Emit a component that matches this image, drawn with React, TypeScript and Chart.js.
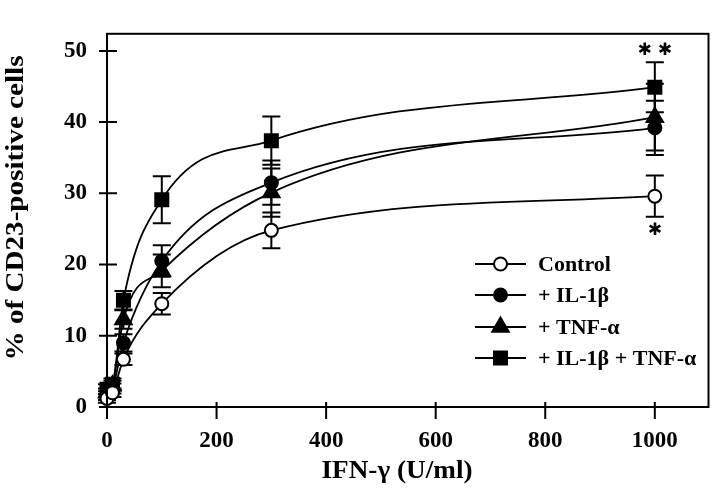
import React, { useEffect, useRef } from 'react';
import { Chart, registerables } from 'chart.js';

Chart.register(...registerables);

// ---- data ----
const doses = [0, 10, 30, 100, 300, 1000];
const control = [1.2, 2.0, 6.7, 14.5, 24.8, 29.6];
const controlErr = [0.6, 0.6, 0.8, 1.5, 2.5, 2.9];
const il1b = [1.6, 2.6, 9.0, 20.5, 31.5, 39.2];
const il1bErr = [0.6, 0.7, 1.2, 2.2, 3.1, 3.8];
const tnfa = [2.0, 3.0, 12.3, 19.1, 30.1, 40.7];
const tnfaErr = [0.6, 0.7, 1.3, 2.3, 3.4, 4.7];
const both = [2.5, 3.2, 15.0, 29.1, 37.4, 44.9];
const bothErr = [0.7, 0.8, 1.3, 3.3, 3.4, 3.5];
const seriesLabels = ['Control', '+ IL-1β', '+ TNF-α', '+ IL-1β + TNF-α'];
const xTicks = [0, 200, 400, 600, 800, 1000];
const yTicks = [0, 10, 20, 30, 40, 50];
const xTitle = 'IFN-γ (U/ml)';
const yTitle = '% of CD23-positive cells';
const asteriskX = [1000, 1000];
const asteriskY = [50.0, 24.8];
const asteriskText = ['✱ ✱', '✱'];

const SERIF = '"Liberation Serif", "Times New Roman", serif';

type Marker = 'openCircle' | 'circle' | 'triangle' | 'rect';
const markers: Marker[] = ['openCircle', 'circle', 'triangle', 'rect'];
const values = [control, il1b, tnfa, both];
const errors = [controlErr, il1bErr, tnfaErr, bothErr];

function drawMarker(ctx: CanvasRenderingContext2D, m: Marker, x: number, y: number) {
  ctx.save();
  ctx.lineWidth = 2;
  ctx.strokeStyle = '#000';
  ctx.fillStyle = m === 'openCircle' ? '#fff' : '#000';
  ctx.beginPath();
  if (m === 'openCircle' || m === 'circle') {
    ctx.arc(x, y, 6.5, 0, Math.PI * 2);
  } else if (m === 'triangle') {
    const r = 9.5;
    ctx.moveTo(x, y - r);
    ctx.lineTo(x + r * Math.sin(Math.PI / 3), y + r * 0.5);
    ctx.lineTo(x - r * Math.sin(Math.PI / 3), y + r * 0.5);
    ctx.closePath();
  } else {
    ctx.rect(x - 6.5, y - 6.5, 13, 13);
  }
  ctx.fill();
  ctx.stroke();
  ctx.restore();
}

function stretchText(
  ctx: CanvasRenderingContext2D,
  text: string,
  x: number,
  y: number,
  font: string,
  targetW: number,
  angle: number
) {
  ctx.save();
  ctx.font = font;
  const w = ctx.measureText(text).width;
  ctx.translate(x, y);
  ctx.rotate(angle);
  ctx.scale(targetW / w, 1);
  ctx.textAlign = 'center';
  ctx.textBaseline = 'middle';
  ctx.fillStyle = '#000';
  ctx.fillText(text, 0, 0);
  ctx.restore();
}

const decorPlugin = {
  id: 'decor',
  beforeDatasetsDraw(chart: any) {
    const ctx: CanvasRenderingContext2D = chart.ctx;
    const xs = chart.scales.x;
    const ys = chart.scales.y;
    ctx.save();
    ctx.strokeStyle = '#000';
    ctx.lineWidth = 2;
    values.forEach((vals, si) => {
      vals.forEach((v, i) => {
        const px = xs.getPixelForValue(doses[i]);
        const top = ys.getPixelForValue(v + errors[si][i]);
        const bot = ys.getPixelForValue(v - errors[si][i]);
        ctx.beginPath();
        ctx.moveTo(px, top);
        ctx.lineTo(px, bot);
        ctx.moveTo(px - 9, top);
        ctx.lineTo(px + 9, top);
        ctx.moveTo(px - 9, bot);
        ctx.lineTo(px + 9, bot);
        ctx.stroke();
      });
    });
    ctx.restore();
  },
  afterDraw(chart: any) {
    const ctx: CanvasRenderingContext2D = chart.ctx;
    const a = chart.chartArea;
    const xs = chart.scales.x;
    const ys = chart.scales.y;
    ctx.save();
    ctx.strokeStyle = '#000';
    ctx.lineWidth = 2;
    // frame
    ctx.strokeRect(a.left, a.top, a.right - a.left, a.bottom - a.top);
    // ticks
    ctx.beginPath();
    yTicks.forEach((v) => {
      const py = ys.getPixelForValue(v);
      ctx.moveTo(a.left - 8, py);
      ctx.lineTo(a.left + 10, py);
    });
    xTicks.forEach((v) => {
      const px = xs.getPixelForValue(v);
      ctx.moveTo(px, a.bottom - 5);
      ctx.lineTo(px, a.bottom + 12);
    });
    ctx.stroke();

    // titles
    stretchText(ctx, xTitle, 397, 472, `bold 25px ${SERIF}`, 151, 0);
    stretchText(ctx, yTitle, 17, 208, `bold 25px ${SERIF}`, 305, -Math.PI / 2);

    // asterisks
    ctx.fillStyle = '#000';
    ctx.font = 'bold 17px "DejaVu Sans", sans-serif';
    ctx.textAlign = 'center';
    ctx.textBaseline = 'middle';
    asteriskText.forEach((t, i) => {
      ctx.fillText(t, xs.getPixelForValue(asteriskX[i]), ys.getPixelForValue(asteriskY[i]));
    });

    // legend
    const rowsY = [264, 295, 327, 358];
    seriesLabels.forEach((lab, i) => {
      const y = rowsY[i];
      ctx.beginPath();
      ctx.lineWidth = 2;
      ctx.moveTo(475, y);
      ctx.lineTo(526, y);
      ctx.stroke();
      drawMarker(ctx, markers[i], 500.5, y);
      ctx.fillStyle = '#000';
      ctx.font = `bold 22px ${SERIF}`;
      ctx.textAlign = 'left';
      ctx.textBaseline = 'middle';
      ctx.fillText(lab, 538, y + 1);
    });
    ctx.restore();
  },
};

export default function App() {
  const ref = useRef<HTMLCanvasElement>(null);
  useEffect(() => {
    if (!ref.current) return;
    const styleFor = (m: Marker) => {
      if (m === 'openCircle') return { pointStyle: 'circle', pointRadius: 6.5, pointBackgroundColor: '#fff' };
      if (m === 'circle') return { pointStyle: 'circle', pointRadius: 6.5, pointBackgroundColor: '#000' };
      if (m === 'triangle') return { pointStyle: 'triangle', pointRadius: 9.5, pointBackgroundColor: '#000' };
      return { pointStyle: 'rect', pointRadius: 9.2, pointBackgroundColor: '#000' };
    };
    const chart = new Chart(ref.current, {
      type: 'line',
      data: {
        datasets: values.map((vals, si) => ({
          label: seriesLabels[si],
          data: doses.map((d, i) => ({ x: d, y: vals[i] })),
          borderColor: '#000',
          borderWidth: 1.8,
          pointBorderColor: '#000',
          pointBorderWidth: 2,
          cubicInterpolationMode: 'monotone',
          clip: false,
          ...styleFor(markers[si]),
        })) as any,
      },
      options: {
        animation: false,
        responsive: false,
        devicePixelRatio: 1,
        events: [],
        layout: { padding: { left: 0, right: 7, top: 8, bottom: 0 } },
        plugins: { legend: { display: false }, tooltip: { enabled: false } },
        scales: {
          x: {
            type: 'linear',
            min: 0,
            max: 1098,
            afterBuildTicks: (s: any) => {
              s.ticks = xTicks.map((v) => ({ value: v }));
            },
            afterFit: (s: any) => {
              s.height = 96;
            },
            grid: { display: false, drawTicks: false },
            border: { display: false },
            ticks: {
              color: '#000',
              font: { family: SERIF, weight: 'bold', size: 23 },
              padding: 20,
              maxRotation: 0,
              callback: (v: any) => String(v),
            },
          },
          y: {
            type: 'linear',
            min: 0,
            max: 52.4,
            afterBuildTicks: (s: any) => {
              s.ticks = yTicks.map((v) => ({ value: v }));
            },
            afterFit: (s: any) => {
              s.width = 107;
            },
            grid: { display: false, drawTicks: false },
            border: { display: false },
            ticks: {
              color: '#000',
              font: { family: SERIF, weight: 'bold', size: 23 },
              padding: 20,
              callback: (v: any) => String(v),
            },
          },
        },
      } as any,
      plugins: [decorPlugin],
    });
    return () => chart.destroy();
  }, []);
  return (
    <div style={{ position: 'absolute', left: 0, top: 0, width: 720, height: 503, background: '#fff' }}>
      <canvas ref={ref} width={720} height={503} />
    </div>
  );
}
